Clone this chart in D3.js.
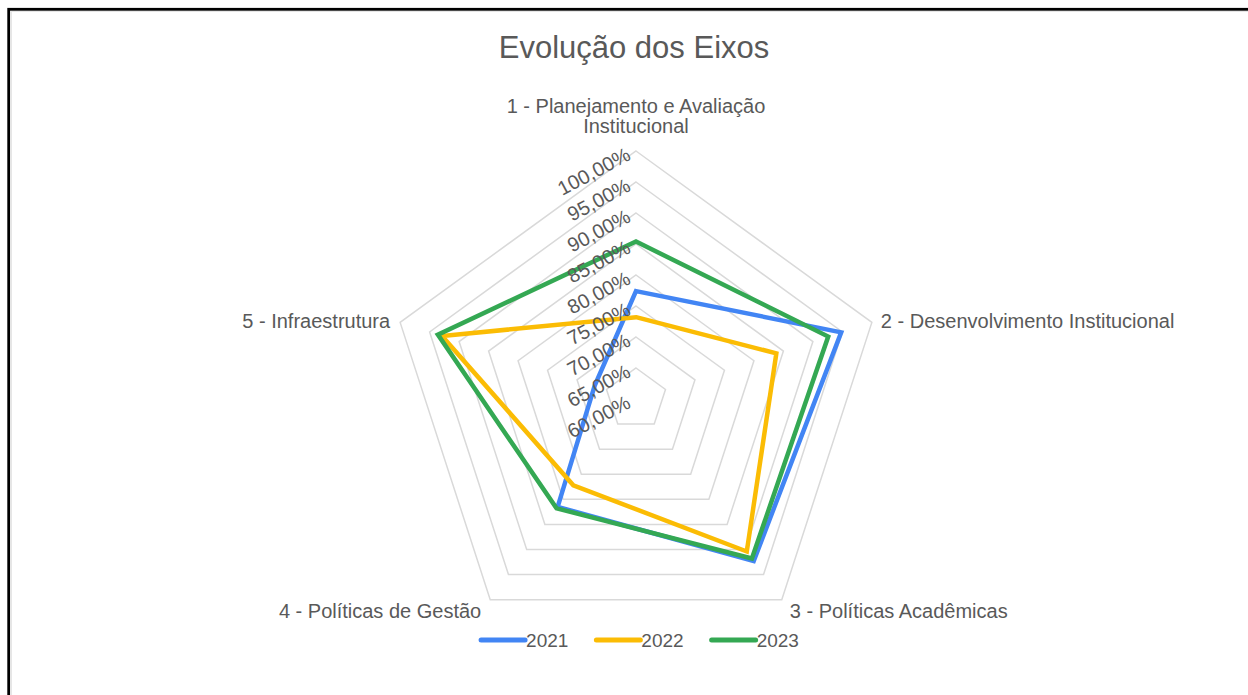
<!DOCTYPE html>
<html>
<head>
<meta charset="utf-8">
<script src="https://cdn.jsdelivr.net/npm/d3@7"></script>
<style>
  html, body { margin: 0; padding: 0; background: #fff; }
  svg { display: block; }
</style>
</head>
<body>
<svg id="chart"></svg>
<script>
// axes of the radar, clockwise from the top
const axes = [
  ["1 - Planejamento e Avaliação", "Institucional"],
  ["2 - Desenvolvimento Institucional"],
  ["3 - Políticas Acadêmicas"],
  ["4 - Políticas de Gestão"],
  ["5 - Infraestrutura"]
];
const years = ["2021", "2022", "2023"];
const values2021 = [77.4, 94.8, 92.3, 81.5, 67.0];
const values2022 = [73.2, 83.8, 90.4, 77.2, 92.9];
const values2023 = [85.4, 92.6, 91.8, 81.8, 93.6];
const ticks = [60, 65, 70, 75, 80, 85, 90, 95, 100];

const width = 1248, height = 695;
const cx = 636, cy = 399, radius = 248;
const font = "'Liberation Sans', Arial, sans-serif";
const textColor = "#595959";
const colors = ["#4285F4", "#FBBC04", "#34A853"];

const svg = d3.select("#chart").attr("width", width).attr("height", height);

// frame (image is cropped on the right and bottom)
svg.append("rect")
  .attr("x", 8.7).attr("y", 9.3)
  .attr("width", width + 20).attr("height", height + 20)
  .attr("fill", "#fff").attr("stroke", "#000").attr("stroke-width", 2.8);
svg.append("rect")
  .attr("x", 11.5).attr("y", 11.5)
  .attr("width", width + 20).attr("height", height + 20)
  .attr("fill", "none").attr("stroke", "#e6e6e6").attr("stroke-width", 1);

const r = d3.scaleLinear().domain([60, 100]).range([0, radius]);
const angle = d3.scaleLinear().domain([0, axes.length]).range([0, 2 * Math.PI]);

function pt(i, v) {
  const a = angle(i);
  return [cx + r(v) * Math.sin(a), cy - r(v) * Math.cos(a)];
}

// title
svg.append("text")
  .attr("x", 634).attr("y", 58)
  .attr("text-anchor", "middle")
  .style("font-family", font).style("font-size", "31px")
  .attr("fill", textColor)
  .text("Evolução dos Eixos");

// grid rings
const grid = svg.append("g");
grid.selectAll("path")
  .data(ticks.filter(t => t > 60))
  .enter()
  .append("path")
  .attr("d", t => d3.line()(axes.map((a, i) => pt(i, t))) + "Z")
  .attr("fill", "none")
  .attr("stroke", "#d9d9d9")
  .attr("stroke-width", 1.5);

// series
const series = [values2021, values2022, values2023];
svg.append("g").selectAll("path")
  .data(series)
  .enter()
  .append("path")
  .attr("d", vals => d3.line()(vals.map((v, i) => pt(i, v))) + "Z")
  .attr("fill", "none")
  .attr("stroke", (d, i) => colors[i])
  .attr("stroke-width", 4.5)
  .attr("stroke-linejoin", "miter");

// tick labels, rotated along the top axis
const fmt = v => d3.format(".2f")(v).replace(".", ",") + "%";
svg.append("g").selectAll("text")
  .data(ticks)
  .enter()
  .append("text")
  .attr("transform", t => `translate(${cx - 4},${cy - r(t) + 8}) rotate(-28)`)
  .attr("text-anchor", "end")
  .style("font-family", font).style("font-size", "20px")
  .attr("fill", textColor)
  .text(fmt);

// axis labels
const labelPos = [
  { dx: 0, dy: -38, anchor: "middle" },
  { dx: 9, dy: 6, anchor: "start" },
  { dx: 8, dy: 18, anchor: "start" },
  { dx: -9, dy: 18, anchor: "end" },
  { dx: -10, dy: 6, anchor: "end" }
];
const labels = svg.append("g").selectAll("text")
  .data(axes)
  .enter()
  .append("text")
  .attr("x", (d, i) => pt(i, 100)[0] + labelPos[i].dx)
  .attr("y", (d, i) => pt(i, 100)[1] + labelPos[i].dy)
  .attr("text-anchor", (d, i) => labelPos[i].anchor)
  .style("font-family", font).style("font-size", "20px")
  .attr("fill", textColor);
labels.selectAll("tspan")
  .data(d => d)
  .enter()
  .append("tspan")
  .attr("x", function() { return d3.select(this.parentNode).attr("x"); })
  .attr("dy", (d, j) => j === 0 ? 0 : 20)
  .text(d => d);

// legend
const legend = svg.append("g");
let lx = 0;
const items = legend.selectAll("g")
  .data(years)
  .enter()
  .append("g");
items.append("line")
  .attr("x1", 0).attr("x2", 44).attr("y1", 0).attr("y2", 0)
  .attr("stroke", (d, i) => colors[i])
  .attr("stroke-width", 5)
  .attr("stroke-linecap", "round");
items.append("text")
  .attr("x", 45).attr("y", 7)
  .style("font-family", font).style("font-size", "19px")
  .attr("fill", textColor)
  .text(d => d);
items.each(function() {
  d3.select(this).attr("transform", `translate(${lx},0)`);
  lx += this.getBBox().width + 28;
});
const legendW = lx - 28;
legend.attr("transform", `translate(${640 - legendW / 2},640)`);
</script>
</body>
</html>
